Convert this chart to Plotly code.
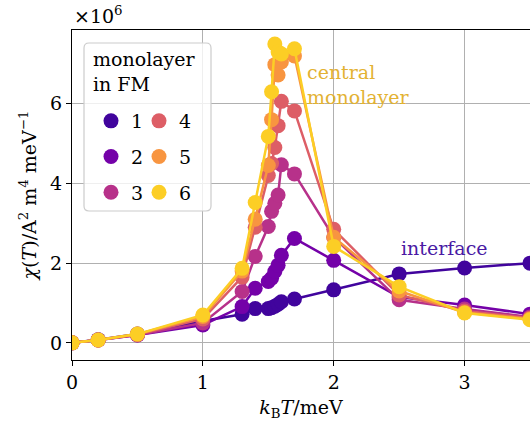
import plotly.graph_objects as go

# temperature k_B T in meV
kT = [0, 0.2, 0.5, 1.0, 1.3, 1.4, 1.5, 1.525, 1.55, 1.575, 1.6, 1.7, 2.0, 2.5, 3.0, 3.5]

# susceptibility per monolayer, in units of 1e6
chi_1 = [0, 0.08, 0.22, 0.55, 0.72, 0.86, 0.86, 0.88, 0.92, 0.97, 1.03, 1.10, 1.33, 1.73, 1.88, 2.00]
chi_2 = [0, 0.07, 0.20, 0.45, 0.91, 1.37, 1.54, 1.62, 1.79, 1.95, 2.20, 2.62, 2.07, 1.15, 0.95, 0.72]
chi_3 = [0, 0.07, 0.20, 0.50, 1.29, 2.17, 2.92, 3.30, 3.50, 3.71, 4.47, 4.24, 2.65, 1.08, 0.85, 0.65]
chi_4 = [0, 0.07, 0.21, 0.60, 1.65, 2.90, 4.20, 4.50, 4.90, 5.45, 6.06, 5.82, 2.85, 1.20, 0.80, 0.62]
chi_5 = [0, 0.07, 0.22, 0.66, 1.80, 3.10, 4.45, 5.60, 6.98, 6.72, 7.05, 7.20, 2.65, 1.30, 0.76, 0.60]
chi_6 = [0, 0.07, 0.22, 0.70, 1.87, 3.52, 5.18, 6.30, 7.50, 7.30, 7.25, 7.38, 2.42, 1.41, 0.75, 0.58]

layer_names = ["1", "2", "3", "4", "5", "6"]
series = [chi_1, chi_2, chi_3, chi_4, chi_5, chi_6]

x_ticks = [0, 1, 2, 3]
y_ticks = [0, 2, 4, 6]

colors = ["#41049d", "#7401a8", "#b7318a", "#dd5e66", "#f89540", "#fcce25"]
FONT = "'DejaVu Serif', serif"
FS = 19

fig = go.Figure()
for name, y, c in zip(layer_names, series, colors):
    fig.add_trace(go.Scatter(
        x=kT, y=y, mode="lines+markers", name=name,
        line=dict(color=c, width=2.5),
        marker=dict(color=c, size=15),
        showlegend=False, cliponaxis=True,
    ))

# legend entries (markers only), two columns
for i, (name, c) in enumerate(zip(layer_names, colors)):
    fig.add_trace(go.Scatter(
        x=[None], y=[None], mode="markers", name=name,
        marker=dict(color=c, size=15),
        legend="legend" if i < 3 else "legend2",
        legendgroup=name, showlegend=True,
    ))

W, H = 530, 430
ml, mr, mt, mb = 72, 0, 30, 70
pw, ph = W - ml - mr, H - mt - mb

def px2paper(sx, sy):
    return (sx - ml) / pw, (H - mb - sy) / ph

# legend frame (rounded rectangle)
bx0, by0 = px2paper(84, 211)
bx1, by1 = px2paper(211, 43)
rx, ry = 5 / pw, 5 / ph
path = (f"M {bx0+rx},{by0} L {bx1-rx},{by0} Q {bx1},{by0} {bx1},{by0+ry} "
        f"L {bx1},{by1-ry} Q {bx1},{by1} {bx1-rx},{by1} L {bx0+rx},{by1} "
        f"Q {bx0},{by1} {bx0},{by1-ry} L {bx0},{by0+ry} Q {bx0},{by0} {bx0+rx},{by0} Z")

lx1, ly1 = px2paper(91, 102)
lx2, ly2 = px2paper(139, 102)
tx, ty = px2paper(91, 46)

leg_common = dict(
    xanchor="left", yanchor="top",
    bgcolor="rgba(0,0,0,0)", borderwidth=0,
    font=dict(family=FONT, size=FS),
    tracegroupgap=8, itemwidth=30, traceorder="grouped",
)

fig.update_layout(
    width=W, height=H,
    margin=dict(l=ml, r=mr, t=mt, b=mb),
    paper_bgcolor="white", plot_bgcolor="white",
    font=dict(family=FONT, size=FS, color="black"),
    shapes=[dict(type="path", path=path, xref="paper", yref="paper",
                 fillcolor="rgba(255,255,255,0.8)",
                 line=dict(color="#cccccc", width=1.2), layer="above")],
    legend=dict(x=lx1, y=ly1, **leg_common),
    legend2=dict(x=lx2, y=ly2, **leg_common),
    annotations=[
        dict(text="monolayer<br>in FM", xref="paper", yref="paper",
             x=tx, y=ty, xanchor="left", yanchor="top", align="left",
             showarrow=False, font=dict(family=FONT, size=FS)),
        dict(text="×10<sup>6</sup>", xref="paper", yref="paper",
             x=0, y=px2paper(0, 15)[1], xanchor="left", yanchor="middle",
             showarrow=False, font=dict(family=FONT, size=FS)),
        dict(text="central<br>monolayer", xref="x", yref="y",
             x=1.78, y=7.12, xanchor="left", yanchor="top", align="left",
             showarrow=False, font=dict(family=FONT, size=FS, color="#e3b232")),
        dict(text="interface", xref="x", yref="y",
             x=2.85, y=2.38, xanchor="center", yanchor="middle",
             showarrow=False, font=dict(family=FONT, size=FS, color="#4a1aa4")),
    ],
)

fig.update_xaxes(
    range=[0, 3.5], tickvals=x_ticks, ticktext=[str(v) for v in x_ticks],
    showgrid=True, gridcolor="#b0b0b0", gridwidth=1, zeroline=False,
    showline=True, linecolor="black", linewidth=1.3, mirror=True,
    ticks="outside", ticklen=5, tickwidth=1.2, tickcolor="black",
    title=dict(text="<i>k</i><sub>B</sub><i>T</i>/meV", standoff=8,
               font=dict(family=FONT, size=FS)),
    tickfont=dict(family=FONT, size=FS),
)
fig.update_yaxes(
    range=[-0.43, 7.85], tickvals=y_ticks, ticktext=[str(v) for v in y_ticks],
    showgrid=True, gridcolor="#b0b0b0", gridwidth=1, zeroline=False,
    showline=True, linecolor="black", linewidth=1.3,
    ticks="outside", ticklen=5, tickwidth=1.2, tickcolor="black",
    title=dict(text="<i>χ</i>(<i>T</i>)/A<sup>2</sup> m<sup>4</sup> meV<sup>−1</sup>",
               standoff=8, font=dict(family=FONT, size=FS)),
    tickfont=dict(family=FONT, size=FS),
)

fig.write_html("out.html", config={"displayModeBar": False},
               post_script="document.body.style.margin='0';")
